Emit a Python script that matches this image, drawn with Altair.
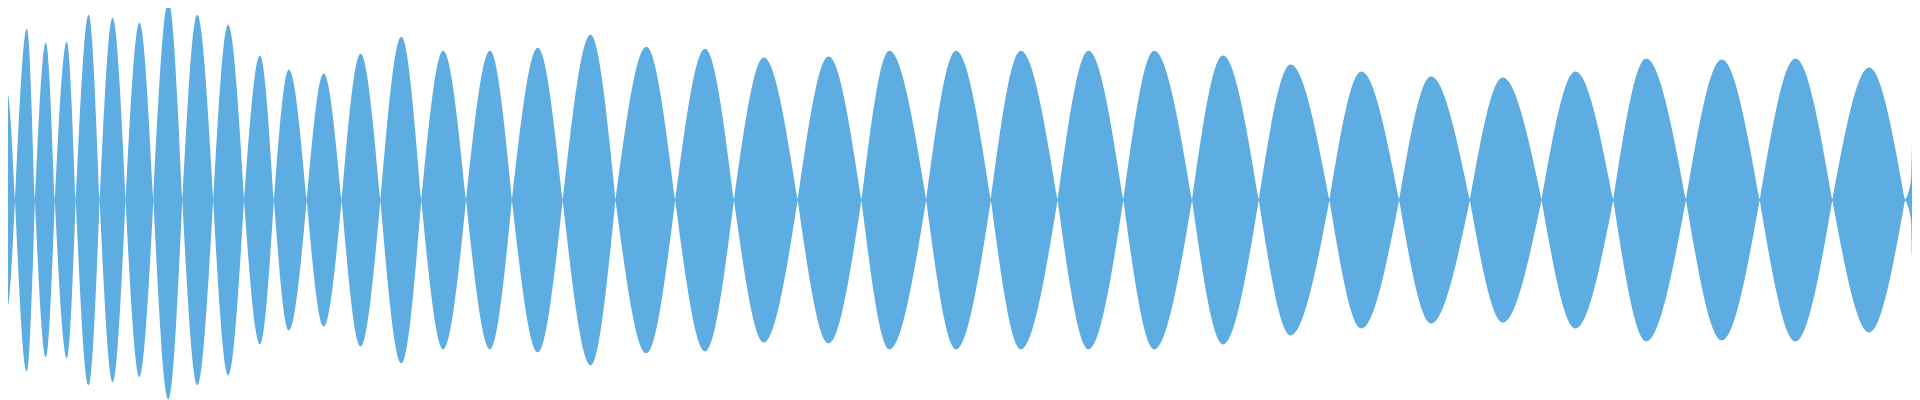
import altair as alt
import pandas as pd

# zero crossings of the waveform (x in pixels of the 1920-wide picture)
crossings = [0, 15, 35, 55, 76, 100, 126, 154, 183, 214, 245, 275, 308, 343, 382,
             423, 468, 514, 565, 618, 678, 737, 801, 865, 930, 995, 1062, 1128,
             1197, 1264, 1335, 1405, 1476, 1548, 1620, 1693, 1767, 1840, 1913]
# position of each lobe's peak
peak_x = [7, 27, 46, 67, 89, 113, 140, 169, 198, 229, 261, 290, 325, 362, 403,
          445, 492, 540, 593, 649, 708, 767, 832, 893, 960, 1025, 1093, 1159,
          1228, 1296, 1367, 1437, 1509, 1582, 1653, 1729, 1803, 1877]
# peak amplitude of each lobe
peak_amp = [109, 172, 158, 159, 186, 183, 178, 200, 186, 176, 145, 131, 127, 147, 164,
            150, 150, 153, 166, 154, 152, 143, 144, 150, 150, 150, 150, 150,
            145, 136, 129, 124, 123, 129, 142, 141, 142, 133]
start_amp = 51          # amplitude at the left edge (first lobe is cut)
tail_x = [1913, 1919, 1920]   # last, cut-off lobe
tail_amp = [0, 20, 58]

rows = []
for i in range(len(peak_x)):
    a0 = start_amp if i == 0 else 0
    for x, a in [(crossings[i], a0), (peak_x[i], peak_amp[i]), (crossings[i + 1], 0)]:
        rows.append({"lobe": f"L{i:02d}", "x": x, "hi": a, "lo": -a})
for x, a in zip(tail_x, tail_amp):
    rows.append({"lobe": f"L{len(peak_x):02d}", "x": x, "hi": a, "lo": -a})
df = pd.DataFrame(rows)

color = "#5DADE2"
xs = alt.Scale(domain=[8, 1920], nice=False, zero=False)
ys = alt.Scale(domain=[-200, 192], nice=False, zero=False)

area = alt.Chart(df).mark_area(
    interpolate="monotone", opacity=1
).encode(
    x=alt.X("x:Q", scale=xs, axis=None),
    y=alt.Y("hi:Q", scale=ys, axis=None, stack=None),
    y2=alt.Y2("lo:Q"),
    color=alt.Color("lobe:N", scale=alt.Scale(range=[color]), legend=None),
)

center = alt.Chart(df).mark_rule(color=color, strokeWidth=1.5).encode(
    y=alt.datum(0)
)

chart = alt.layer(area, center).properties(
    width=1912, height=392, padding=0,
    autosize=alt.AutoSizeParams(type="none"),
).configure_view(strokeWidth=0)

chart.save("out.html", embed_options={"renderer": "svg", "actions": False})
